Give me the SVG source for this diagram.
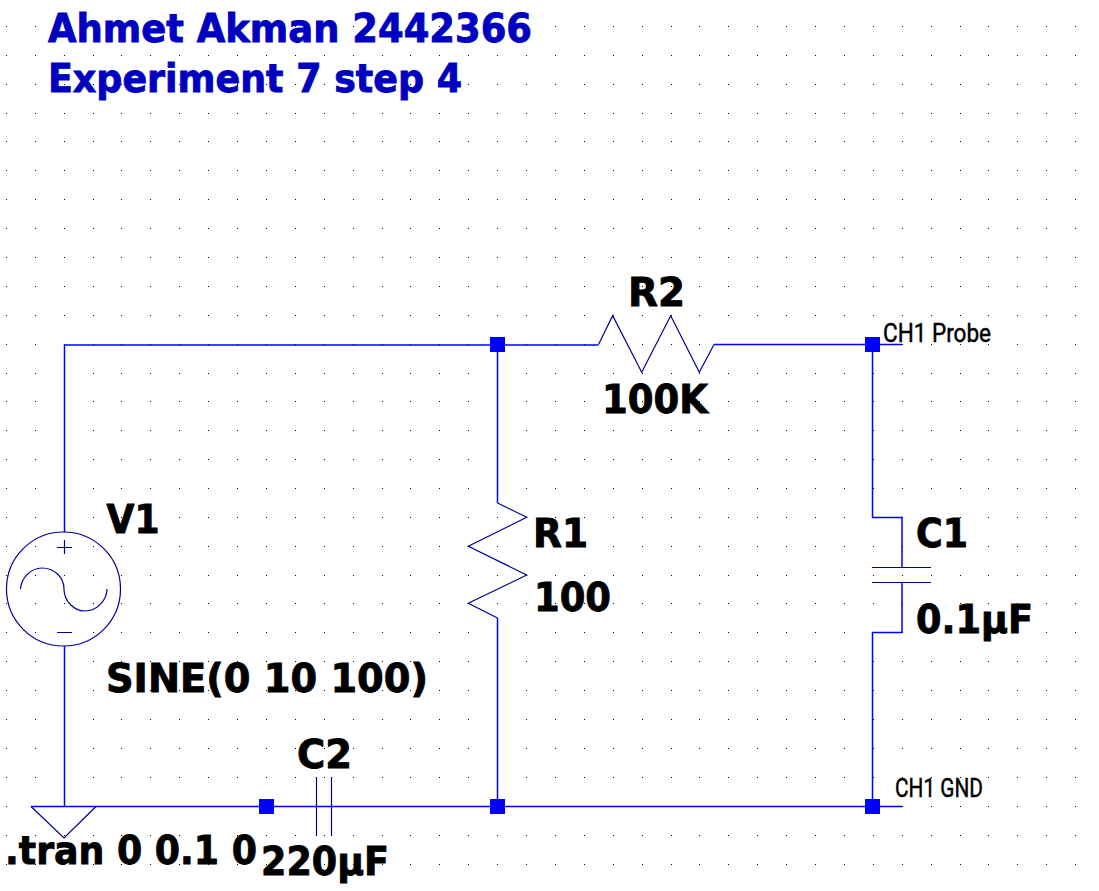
<svg xmlns="http://www.w3.org/2000/svg" xmlns:xlink="http://www.w3.org/1999/xlink" width="1099" height="891" viewBox="0 0 1099 891">
<style>
.wire{fill:none;stroke:#0000ff;stroke-width:1.5}
.sym{fill:none;stroke:#000090;stroke-width:1.2}
.j{fill:#0000ff}
.lbl{font-family:"DejaVu Sans",Verdana,sans-serif;font-weight:700;font-size:39.5px;fill:#000;stroke:#000;stroke-width:.9}
.title{font-family:"DejaVu Sans",Verdana,sans-serif;font-weight:700;font-size:39.5px;fill:#0000c0;stroke:#0000c0;stroke-width:.9}
.net{font-family:Roboto,"Liberation Sans",sans-serif;font-size:25.5px;fill:#000;stroke:#000;stroke-width:.45}
</style>
<defs>
<path id="row" d="M6 0h1M35 0h1M64 0h1M93 0h1M121 0h1M150 0h1M179 0h1M208 0h1M237 0h1M266 0h1M295 0h1M324 0h1M353 0h1M382 0h1M410 0h1M439 0h1M468 0h1M497 0h1M526 0h1M555 0h1M584 0h1M613 0h1M642 0h1M671 0h1M699 0h1M728 0h1M757 0h1M786 0h1M815 0h1M844 0h1M873 0h1M902 0h1M931 0h1M960 0h1M988 0h1M1017 0h1M1046 0h1M1075 0h1" stroke="#000" stroke-width="1" fill="none"/>
</defs>
<rect width="1099" height="891" fill="#fff"/>
<g id="grid">
<use xlink:href="#row" y="26.5"/><use xlink:href="#row" y="55.5"/><use xlink:href="#row" y="84.5"/><use xlink:href="#row" y="113.5"/><use xlink:href="#row" y="141.5"/><use xlink:href="#row" y="170.5"/><use xlink:href="#row" y="199.5"/><use xlink:href="#row" y="228.5"/><use xlink:href="#row" y="257.5"/><use xlink:href="#row" y="286.5"/><use xlink:href="#row" y="315.5"/><use xlink:href="#row" y="344.5"/><use xlink:href="#row" y="373.5"/><use xlink:href="#row" y="401.5"/><use xlink:href="#row" y="430.5"/><use xlink:href="#row" y="459.5"/><use xlink:href="#row" y="488.5"/><use xlink:href="#row" y="517.5"/><use xlink:href="#row" y="546.5"/><use xlink:href="#row" y="575.5"/><use xlink:href="#row" y="603.5"/><use xlink:href="#row" y="632.5"/><use xlink:href="#row" y="661.5"/><use xlink:href="#row" y="690.5"/><use xlink:href="#row" y="719.5"/><use xlink:href="#row" y="748.5"/><use xlink:href="#row" y="777.5"/><use xlink:href="#row" y="806.5"/><use xlink:href="#row" y="835.5"/><use xlink:href="#row" y="864.5"/>
</g>
<g id="connectors">
<path class="wire" d="M64.500 532V345H598.500"/>
<path class="wire" d="M714 344.500H902"/>
<path class="wire" d="M497.500 345V503"/>
<path class="wire" d="M497.500 618V806"/>
<path class="wire" d="M872.500 345V517.500H902V567"/>
<path class="wire" d="M902 582.500V632.500H872.500V806"/>
<path class="wire" d="M64.500 646V806"/>
<path class="wire" d="M31 806.500H902"/>
</g>
<g id="junctions">
<rect class="j" x="490" y="337" width="15" height="15"/>
<rect class="j" x="865" y="337" width="15" height="15"/>
<rect class="j" x="259" y="799" width="15" height="15"/>
<rect class="j" x="490" y="799" width="15" height="15"/>
<rect class="j" x="865" y="799" width="15" height="15"/>
</g>
<g id="V1">
<circle class="sym" cx="63.500" cy="589" r="57"/>
<path class="sym" d="M57 547.500H72M64.500 540V554M57 632.500H72"/>
<path class="sym" d="M20.500 589C21 578 31 568 42 568C54 568 64 577 64 589C64 601 74 611 85 611C97 611 107 600 107 589"/>
<text class="lbl" x="106.500" y="533" textLength="53" lengthAdjust="spacingAndGlyphs">V1</text>
<text class="lbl" x="106" y="692" textLength="322" lengthAdjust="spacingAndGlyphs">SINE(0 10 100)</text>
</g>
<g id="GND">
<path class="sym" d="M31 806.500L64 838L96 806.500"/>
</g>
<g id="R2">
<path class="sym" d="M598.500 344.500L612.700 315.700L641.700 372.300L670.700 315.700L699.300 372.300L714 344.500"/>
<text class="lbl" x="628" y="306" textLength="57" lengthAdjust="spacingAndGlyphs">R2</text>
<text class="lbl" x="602" y="413" textLength="106" lengthAdjust="spacingAndGlyphs">100K</text>
</g>
<g id="R1">
<path class="sym" d="M497.500 503L526.700 517.300L468.300 546.300L526.700 575L468.300 603.300L497.500 618"/>
<text class="lbl" x="533" y="547" textLength="55" lengthAdjust="spacingAndGlyphs">R1</text>
<text class="lbl" x="534" y="611" textLength="77" lengthAdjust="spacingAndGlyphs">100</text>
</g>
<g id="C1">
<path class="sym" d="M872 567.500H931M872 582.500H931"/>
<text class="lbl" x="916" y="547" textLength="52" lengthAdjust="spacingAndGlyphs">C1</text>
<text class="lbl" x="916" y="633" textLength="117" lengthAdjust="spacingAndGlyphs">0.1µF</text>
</g>
<g id="C2">
<path class="sym" d="M316.500 777V836M331.500 777V836"/>
<text class="lbl" x="297" y="768" textLength="55" lengthAdjust="spacingAndGlyphs">C2</text>
<text class="lbl" x="261" y="875" textLength="128" lengthAdjust="spacingAndGlyphs">220µF</text>
</g>
<g id="directive">
<text class="lbl" x="5" y="864" textLength="252" lengthAdjust="spacingAndGlyphs">.tran 0 0.1 0</text>
</g>
<g id="net-labels">
<text class="net" x="883" y="342" textLength="108" lengthAdjust="spacingAndGlyphs">CH1 Probe</text>
<text class="net" x="895" y="797" textLength="88" lengthAdjust="spacingAndGlyphs">CH1 GND</text>
</g>
<g id="titles">
<text class="title" x="48" y="42" textLength="484" lengthAdjust="spacingAndGlyphs">Ahmet Akman 2442366</text>
<text class="title" x="48" y="92" textLength="414" lengthAdjust="spacingAndGlyphs">Experiment 7 step 4</text>
</g>
</svg>
